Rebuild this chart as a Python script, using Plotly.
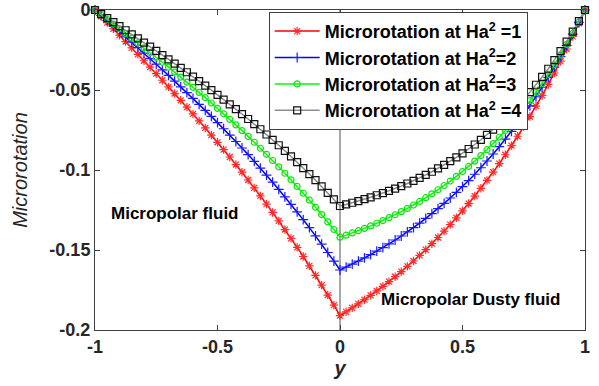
import numpy as np
import plotly.graph_objects as go

# grid of y positions (-1 .. 1, step 0.025)
y_pos = np.round(np.linspace(-1, 1, 81), 3).tolist()

red_vals = [0, -0.00393, -0.00787, -0.01181, -0.01576, -0.01972, -0.02370, -0.02770, -0.03172, -0.03576, -0.03982,
            -0.04392, -0.04805, -0.05222, -0.05643, -0.06068, -0.06497, -0.06932, -0.07371, -0.07816, -0.08268,
            -0.08725, -0.09189, -0.09660, -0.10138, -0.10624, -0.11118, -0.11621, -0.12132, -0.12652, -0.13182,
            -0.13722, -0.14272, -0.14833, -0.15406, -0.15990, -0.16586, -0.17194, -0.17816, -0.18451, -0.19100,
            -0.18864, -0.18619, -0.18367, -0.18107, -0.17837, -0.17559, -0.17272, -0.16975, -0.16669, -0.16352,
            -0.16025, -0.15687, -0.15338, -0.14977, -0.14605, -0.14220, -0.13822, -0.13412, -0.12987, -0.12549,
            -0.12096, -0.11628, -0.11145, -0.10646, -0.10130, -0.09598, -0.09048, -0.08479, -0.07892, -0.07285,
            -0.06659, -0.06011, -0.05342, -0.04652, -0.03938, -0.03201, -0.02439, -0.01652, -0.00840, 0]

blue_vals = [0, -0.00335, -0.00670, -0.01005, -0.01341, -0.01678, -0.02017, -0.02357, -0.02698, -0.03042, -0.03388,
             -0.03737, -0.04088, -0.04443, -0.04801, -0.05162, -0.05528, -0.05897, -0.06271, -0.06650, -0.07034,
             -0.07423, -0.07818, -0.08219, -0.08626, -0.09039, -0.09459, -0.09887, -0.10322, -0.10764, -0.11215,
             -0.11675, -0.12143, -0.12620, -0.13107, -0.13604, -0.14111, -0.14629, -0.15157, -0.15698, -0.16250,
             -0.16072, -0.15887, -0.15694, -0.15495, -0.15287, -0.15072, -0.14849, -0.14617, -0.14376, -0.14126,
             -0.13867, -0.13598, -0.13318, -0.13027, -0.12726, -0.12413, -0.12088, -0.11751, -0.11400, -0.11037,
             -0.10659, -0.10267, -0.09860, -0.09438, -0.08999, -0.08544, -0.08071, -0.07580, -0.07070, -0.06541,
             -0.05992, -0.05421, -0.04829, -0.04215, -0.03576, -0.02914, -0.02226, -0.01511, -0.00770, 0]

green_vals = [0, -0.00292, -0.00585, -0.00878, -0.01172, -0.01466, -0.01762, -0.02059, -0.02358, -0.02658, -0.02961,
              -0.03265, -0.03572, -0.03882, -0.04195, -0.04511, -0.04830, -0.05153, -0.05480, -0.05811, -0.06147,
              -0.06487, -0.06832, -0.07182, -0.07538, -0.07899, -0.08266, -0.08640, -0.09020, -0.09407, -0.09800,
              -0.10202, -0.10611, -0.11028, -0.11453, -0.11888, -0.12331, -0.12783, -0.13245, -0.13718, -0.14200,
              -0.14071, -0.13935, -0.13794, -0.13646, -0.13491, -0.13328, -0.13159, -0.12982, -0.12796, -0.12602,
              -0.12399, -0.12187, -0.11965, -0.11732, -0.11489, -0.11235, -0.10969, -0.10691, -0.10400, -0.10096,
              -0.09777, -0.09444, -0.09096, -0.08732, -0.08350, -0.07952, -0.07535, -0.07098, -0.06642, -0.06165,
              -0.05666, -0.05143, -0.04597, -0.04025, -0.03428, -0.02802, -0.02148, -0.01464, -0.00749, 0]

black_vals = [0, -0.00252, -0.00505, -0.00757, -0.01011, -0.01265, -0.01520, -0.01776, -0.02034, -0.02293, -0.02554,
              -0.02817, -0.03082, -0.03349, -0.03619, -0.03891, -0.04167, -0.04446, -0.04728, -0.05013, -0.05303,
              -0.05596, -0.05894, -0.06196, -0.06502, -0.06814, -0.07131, -0.07453, -0.07781, -0.08115, -0.08454,
              -0.08801, -0.09154, -0.09514, -0.09881, -0.10255, -0.10638, -0.11028, -0.11426, -0.11834, -0.12250,
              -0.12152, -0.12048, -0.11940, -0.11826, -0.11705, -0.11579, -0.11447, -0.11307, -0.11160, -0.11006,
              -0.10844, -0.10674, -0.10495, -0.10306, -0.10108, -0.09900, -0.09681, -0.09451, -0.09210, -0.08955,
              -0.08688, -0.08407, -0.08112, -0.07802, -0.07475, -0.07132, -0.06771, -0.06392, -0.05993, -0.05574,
              -0.05134, -0.04671, -0.04184, -0.03672, -0.03134, -0.02568, -0.01973, -0.01348, -0.00691, 0]

names = ["Microrotation at Ha<sup>2</sup> =1", "Microrotation at Ha<sup>2</sup>=2",
         "Microrotation at Ha<sup>2</sup>=3", "Microrotation at Ha<sup>2</sup> =4"]

x_ticks = [-1, -0.5, 0, 0.5, 1]
x_labels = ["-1", "-0.5", "0", "0.5", "1"]
y_ticks = [-0.2, -0.15, -0.1, -0.05, 0]
y_labels = ["-0.2", "-0.15", "-0.1", "-0.05", "0"]

series = [
    (red_vals, "#ff0000", "#ff2a2a", "asterisk-open", 7),
    (blue_vals, "#0000ff", "#1a1aff", "cross-thin-open", 7),
    (green_vals, "#00ff00", "#10e010", "circle-open", 6),
    (black_vals, "#8c8c8c", "#111111", "square-open", 7),
]

fig = go.Figure()
for (vals, lc, mc, sym, ms), nm in zip(series, names):
    fig.add_trace(go.Scatter(
        x=y_pos, y=vals, mode="lines+markers", name=nm,
        line=dict(color=lc, width=1.5),
        marker=dict(symbol=sym, size=ms, color=mc, line=dict(color=mc, width=1.2)),
        cliponaxis=False,
    ))

font_family = "Liberation Sans, Arial, sans-serif"

fig.add_shape(type="line", xref="x", yref="paper", x0=0, x1=0, y0=0, y1=1,
              line=dict(color="#505050", width=1), layer="below")

fig.add_annotation(x=-0.672, y=-0.127, text="Micropolar fluid", showarrow=False,
                   font=dict(family=font_family, size=17, color="black", weight="bold"))
fig.add_annotation(x=0.533, y=-0.181, text="Micropolar Dusty fluid", showarrow=False,
                   font=dict(family=font_family, size=17, color="black", weight="bold"))

axis_common = dict(showgrid=False, zeroline=False, showline=True, linecolor="#404040", linewidth=1,
                   mirror="ticks", ticks="inside", ticklen=5, tickcolor="#404040", automargin=False,
                   tickfont=dict(family=font_family, size=18, color="#262626", weight="bold"))

fig.update_layout(
    width=599, height=386,
    margin=dict(l=95, r=14, t=10, b=56),
    paper_bgcolor="white", plot_bgcolor="white",
    showlegend=True,
    legend=dict(x=0.883, y=0.994, xanchor="right", yanchor="top",
                bgcolor="white", bordercolor="#404040", borderwidth=1,
                font=dict(family=font_family, size=18, color="black", weight="bold"),
                itemwidth=45),
    xaxis=dict(range=[-1, 1], tickvals=x_ticks, ticktext=x_labels,
               title=dict(text="y", standoff=4,
                          font=dict(family=font_family, size=20, color="#262626", style="italic", weight="bold")),
               **axis_common),
    yaxis=dict(range=[-0.2, 0], tickvals=y_ticks, ticktext=y_labels,
               title=dict(text="Microrotation", standoff=16,
                          font=dict(family=font_family, size=20, color="#262626", style="italic")),
               **axis_common),
)

fig.write_html("out.html", config={"displayModeBar": False},
               post_script="document.body.style.margin='0';document.body.style.overflow='hidden';")
